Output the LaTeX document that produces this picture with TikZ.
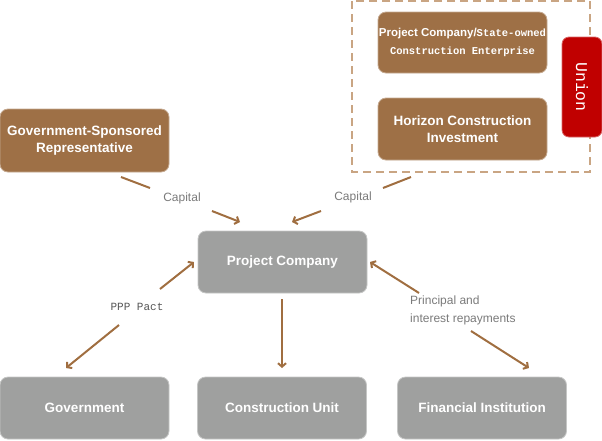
\documentclass[tikz,border=0pt]{standalone}
\usepackage{fontspec}
\setmainfont{Liberation Sans}
\newfontfamily\monof{Liberation Mono}
\usetikzlibrary{arrows.meta}
\definecolor{brownbox}{HTML}{9E7046}
\definecolor{graybox}{HTML}{9FA09F}
\definecolor{arrowc}{HTML}{A06E40}
\definecolor{dashc}{HTML}{C9A583}
\definecolor{unionred}{HTML}{C00000}
\definecolor{labelc}{HTML}{7A7A7A}
\tikzset{
  bbox/.style={rectangle, rounded corners=8pt, fill=brownbox, draw=brownbox!60!white, line width=0.8pt,
    text=white, font=\bfseries\fontsize{13.5}{17}\selectfont, align=center, inner sep=0pt,
    minimum width=169pt, minimum height=62pt},
  gbox/.style={bbox, fill=graybox, draw=graybox!60!white},
  conn/.style={draw=arrowc, line width=2pt},
  arr/.style={conn, -{Straight Barb[length=3.5pt,width=8pt]}},
  lbl/.style={text=labelc, font=\fontsize{12}{18}\selectfont, inner sep=0pt, align=left},
}
\begin{document}
\begin{tikzpicture}[x=1pt,y=-1pt]
\useasboundingbox (0,0) rectangle (602,440);
% dashed group
\draw[dashc, line width=1.6pt, dash pattern=on 8pt off 5pt] (352,1) rectangle (590,172);
% boxes
\node[bbox, minimum height=63pt] (gsr) at (84.5,140.5) {Government-Sponsored\\Representative};
\node[bbox, minimum height=61pt, font=\bfseries\fontsize{11.5}{18}\selectfont] (pcs) at (462.5,42.5)
  {Project Company/{\monof\fontsize{10.5}{18}\selectfont State-owned}\\{\monof\fontsize{10.5}{18}\selectfont Construction Enterprise}};
\node[bbox] (hci) at (462.5,129) {Horizon Construction\\Investment};
\node[rectangle, rounded corners=7pt, fill=unionred, draw=unionred!60!white, line width=0.8pt,
  minimum width=40pt, minimum height=100pt, inner sep=0pt] (union) at (582,87) {};
\node[text=white, rotate=-90, font=\monof\fontsize{16.5}{16.5}\selectfont] (uniontxt) at (union.center) {Union};
\node[gbox] (pc) at (282.5,262) {Project Company};
\node[gbox] (gov) at (84.5,408) {Government};
\node[gbox] (cu) at (282,408) {Construction Unit};
\node[gbox] (fi) at (482,408) {Financial Institution};
% labels
\node[lbl] (cap1) at (182,198) {Capital};
\node[lbl] (cap2) at (353,197) {Capital};
\node[lbl, font=\monof\fontsize{11}{14}\selectfont, text=labelc!70!black] (ppp) at (137,307) {PPP Pact};
\node[lbl, anchor=west] (pir) at (410,310) {Principal and\\interest repayments};
% connector end points
\coordinate (a1) at (121,177); \coordinate (a2) at (150,188);
\coordinate (a3) at (212,211); \coordinate (a4) at (240,222);
\coordinate (b1) at (411,177); \coordinate (b2) at (383,188);
\coordinate (b3) at (321,211); \coordinate (b4) at (292,222);
\coordinate (c1) at (160,289); \coordinate (c2) at (194,262);
\coordinate (c3) at (119,325); \coordinate (c4) at (66,368);
\coordinate (d1) at (282,299); \coordinate (d2) at (282,368);
\coordinate (e1) at (419,293); \coordinate (e2) at (370,262);
\coordinate (e3) at (471,331); \coordinate (e4) at (529,368);
% connectors
\draw[conn] (a1) -- (a2); \draw[arr] (a3) -- (a4);
\draw[conn] (b1) -- (b2); \draw[arr] (b3) -- (b4);
\draw[arr] (c1) -- (c2); \draw[arr] (c3) -- (c4);
\draw[arr] (d1) -- (d2);
\draw[arr] (e1) -- (e2); \draw[arr] (e3) -- (e4);
\end{tikzpicture}
\end{document}
